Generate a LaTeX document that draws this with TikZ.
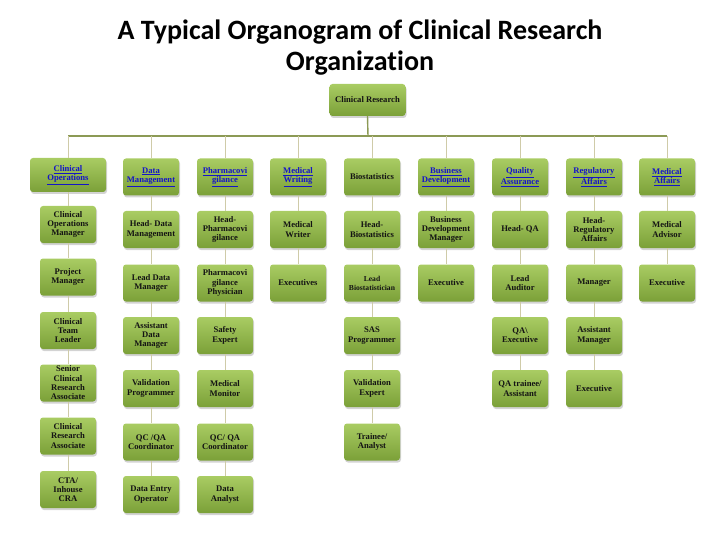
\documentclass[tikz,border=0pt]{standalone}
\usepackage{fontspec}
\setmainfont{Liberation Serif}
\newfontfamily\titlefont[Ligatures=NoCommon]{Carlito}
\usetikzlibrary{shadows}
\definecolor{boxtop}{HTML}{A9CC63}
\definecolor{boxbot}{HTML}{7BA038}
\definecolor{barline}{HTML}{8C9A55}
\definecolor{colline}{HTML}{CFCBA8}
\definecolor{linkblue}{HTML}{1414C8}
\newcommand{\lk}[1]{\underline{#1}}
\tikzset{
  unit/.style={rounded corners=3pt, top color=boxtop, bottom color=boxbot,
    minimum width=56pt, minimum height=37pt, inner sep=1pt, align=center,
    font=\bfseries\fontsize{8.6}{9.3}\selectfont, text=black!92,
    drop shadow={opacity=0.35, shadow xshift=1pt, shadow yshift=-2pt}},
  head/.style={unit, text=linkblue},
  conn/.style={draw=colline, line width=1pt},
  trunk/.style={draw=barline, line width=1.4pt}
}
\begin{document}
\begin{tikzpicture}[x=1pt, y=-1pt]
    \useasboundingbox (0,0) rectangle (720,540);

    \node[font=\titlefont\bfseries\fontsize{28}{31}\selectfont, align=center] (title) at (360,48)
        {A Typical Organogram of Clinical Research\\Organization};

    \node[unit, minimum width=76pt, minimum height=32pt] (cr) at (367.5,100) {Clinical Research};
    \coordinate (bar) at (368,136);

    % department heads
    \node[head, minimum width=76pt, minimum height=34pt] (co) at (68,175) {\lk{Clinical}\\\lk{Operations}};
    \node[head] (dm) at (151,177) {\lk{Data}\\\lk{Management}};
    \node[head] (pv) at (225,177) {\lk{Pharmacovi}\\\lk{gilance}};
    \node[head] (mw) at (298,177) {\lk{Medical}\\\lk{Writing}};
    \node[unit] (bs) at (372,177) {Biostatistics};
    \node[head] (bd) at (446,177) {\lk{Business}\\\lk{Development}};
    \node[head] (qa) at (520,177) {\lk{Quality}\\\lk{Assurance}};
    \node[head] (ra) at (594,177) {\lk{Regulatory}\\\lk{Affairs}};
    \node[head] (ma) at (667,177) {\lk{Medical}\\\lk{Affairs}};

    % clinical operations
    \node[unit] (co2) at (68,224.5) {Clinical\\Operations\\Manager};
    \node[unit] (co3) at (68,277) {Project\\Manager};
    \node[unit] (co4) at (68,330.5) {Clinical\\Team\\Leader};
    \node[unit] (co5) at (68,383) {Senior\\Clinical\\Research\\Associate};
    \node[unit] (co6) at (68,436) {Clinical\\Research\\Associate};
    \node[unit] (co7) at (68,489.5) {CTA/\\Inhouse\\CRA};

    % data management
    \node[unit] (dm2) at (151,229.5) {Head- Data\\Management};
    \node[unit] (dm3) at (151,283) {Lead Data\\Manager};
    \node[unit] (dm4) at (151,335.5) {Assistant\\Data\\Manager};
    \node[unit] (dm5) at (151,388.5) {Validation\\Programmer};
    \node[unit] (dm6) at (151,442) {QC /QA\\Coordinator};
    \node[unit] (dm7) at (151,494.5) {Data Entry\\Operator};

    % pharmacovigilance
    \node[unit] (pv2) at (225,229.5) {Head-\\Pharmacovi\\gilance};
    \node[unit] (pv3) at (225,283) {Pharmacovi\\gilance\\Physician};
    \node[unit] (pv4) at (225,335.5) {Safety\\Expert};
    \node[unit] (pv5) at (225,388.5) {Medical\\Monitor};
    \node[unit] (pv6) at (225,442) {QC/ QA\\Coordinator};
    \node[unit] (pv7) at (225,494.5) {Data\\Analyst};

    % medical writing
    \node[unit] (mw2) at (298,229.5) {Medical\\Writer};
    \node[unit] (mw3) at (298,283) {Executives};

    % biostatistics
    \node[unit] (bs2) at (372,229.5) {Head-\\Biostatistics};
    \node[unit, font=\bfseries\fontsize{7.6}{9}\selectfont] (bs3) at (372,283) {Lead\\Biostatistician};
    \node[unit] (bs4) at (372,335.5) {SAS\\Programmer};
    \node[unit] (bs5) at (372,388.5) {Validation\\Expert};
    \node[unit] (bs6) at (372,442) {Trainee/\\Analyst};

    % business development
    \node[unit] (bd2) at (446,229.5) {Business\\Development\\Manager};
    \node[unit] (bd3) at (446,283) {Executive};

    % quality assurance
    \node[unit] (qa2) at (520,229.5) {Head- QA};
    \node[unit] (qa3) at (520,283) {Lead\\Auditor};
    \node[unit] (qa4) at (520,335.5) {QA\textbackslash\\Executive};
    \node[unit] (qa5) at (520,388.5) {QA trainee/\\Assistant};

    % regulatory affairs
    \node[unit] (ra2) at (594,229.5) {Head-\\Regulatory\\Affairs};
    \node[unit] (ra3) at (594,283) {Manager};
    \node[unit] (ra4) at (594,335.5) {Assistant\\Manager};
    \node[unit] (ra5) at (594,388.5) {Executive};

    % medical affairs
    \node[unit] (ma2) at (667,229.5) {Medical\\Advisor};
    \node[unit] (ma3) at (667,283) {Executive};

    % lines
    \draw[trunk] (cr.south) -- (bar);
    \draw[trunk] (bar -| co.north) -- (bar -| ma.north);
    \foreach \d in {co,dm,pv,mw,bs,bd,qa,ra,ma}
        \draw[conn] (bar -| \d.north) -- (\d.north);
    \foreach \a/\b in {co/co2,co2/co3,co3/co4,co4/co5,co5/co6,co6/co7,
                       dm/dm2,dm2/dm3,dm3/dm4,dm4/dm5,dm5/dm6,dm6/dm7,
                       pv/pv2,pv2/pv3,pv3/pv4,pv4/pv5,pv5/pv6,pv6/pv7,
                       mw/mw2,mw2/mw3,
                       bs/bs2,bs2/bs3,bs3/bs4,bs4/bs5,bs5/bs6,
                       bd/bd2,bd2/bd3,
                       qa/qa2,qa2/qa3,qa3/qa4,qa4/qa5,
                       ra/ra2,ra2/ra3,ra3/ra4,ra4/ra5,
                       ma/ma2,ma2/ma3}
        \draw[conn] (\a.south) -- (\b.north);
\end{tikzpicture}
\end{document}
